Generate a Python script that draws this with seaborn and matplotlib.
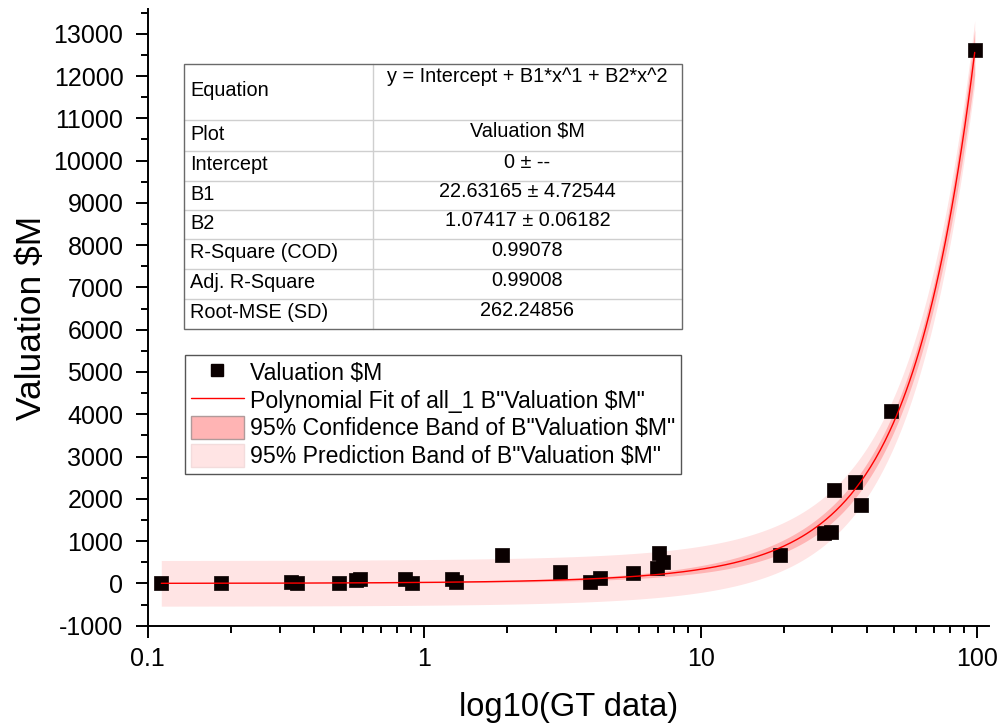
import numpy as np
import pandas as pd
import matplotlib
matplotlib.use("Agg")
import matplotlib.pyplot as plt
import seaborn as sns
from matplotlib.lines import Line2D
from matplotlib.patches import Patch, Rectangle
from matplotlib.ticker import LogLocator, MultipleLocator, FixedLocator, FuncFormatter, NullFormatter

# ---- data -------------------------------------------------------------
gt_data = [0.112, 0.184, 0.329, 0.347, 0.493, 0.567, 0.588, 0.855, 0.901,
           1.257, 1.30, 1.92, 3.09, 3.99, 4.34, 5.69, 6.95, 7.10, 7.31,
           19.3, 28.0, 29.6, 30.5, 36.3, 38.1, 48.9, 98.1]
valuation = [20, 18, 22, 20, 18, 80, 97, 97, 18,
             97, 40, 673, 277, 40, 135, 239, 358, 713, 514,
             673, 1187, 1225, 2213, 2410, 1858, 4069, 12623]

# polynomial fit results (intercept fixed at zero)
INTERCEPT = 0
B1, B1_ERR = 22.63165, 4.72544
B2, B2_ERR = 1.07417, 0.06182
R_SQUARE = 0.99078
ADJ_R_SQUARE = 0.99008
ROOT_MSE = 262.24856
T_CRIT = 2.0595  # Student t, 95 %, df = n - 2 = 25

table_labels = ["Equation", "Plot", "Intercept", "B1", "B2",
                "R-Square (COD)", "Adj. R-Square", "Root-MSE (SD)"]
table_values = ["y = Intercept + B1*x^1 + B2*x^2",
                "Valuation $M",
                f"{INTERCEPT} ± --",
                f"{B1:.5f} ± {B1_ERR:.5f}",
                f"{B2:.5f} ± {B2_ERR:.5f}",
                f"{R_SQUARE:.5f}",
                f"{ADJ_R_SQUARE:.5f}",
                f"{ROOT_MSE:.5f}"]

legend_labels = ["Valuation $M",
                 'Polynomial Fit of all_1 B"Valuation $M"',
                 '95% Confidence Band of B"Valuation $M"',
                 '95% Prediction Band of B"Valuation $M"']

x_ticks = [0.1, 1, 10, 100]
y_ticks = list(range(-1000, 13001, 1000))

# ---- fitted curve and bands -------------------------------------------
x = np.asarray(gt_data, dtype=float)
y = np.asarray(valuation, dtype=float)
xs = np.logspace(np.log10(x.min()), np.log10(x.max()), 500)
ys = INTERCEPT + B1 * xs + B2 * xs ** 2

design = np.column_stack([x, x ** 2])
inv = np.linalg.inv(design.T @ design)
corr = inv[0, 1] / np.sqrt(inv[0, 0] * inv[1, 1])
cov12 = corr * B1_ERR * B2_ERR
var_fit = xs ** 2 * B1_ERR ** 2 + xs ** 4 * B2_ERR ** 2 + 2 * xs ** 3 * cov12
conf = T_CRIT * np.sqrt(var_fit)
pred = T_CRIT * np.sqrt(var_fit + ROOT_MSE ** 2)

points = pd.DataFrame({"gt": x, "val": y})
curve = pd.DataFrame({"gt": xs, "fit": ys})

# ---- style --------------------------------------------------------------
sns.set_theme(style="ticks")
plt.rcParams["font.family"] = ["Liberation Sans", "DejaVu Sans"]
plt.rcParams["axes.unicode_minus"] = False
plt.rcParams["text.color"] = "black"
plt.rcParams["axes.labelcolor"] = "black"
plt.rcParams["xtick.color"] = "black"
plt.rcParams["ytick.color"] = "black"

W, H = 1003, 726
fig = plt.figure(figsize=(W / 100, H / 100), dpi=100)
fig.patch.set_facecolor("white")
ax = fig.add_axes([147.7 / W, 1 - 625.7 / H, (989 - 147.7) / W, (625.7 - 9.2) / H])
ax.set_facecolor("white")

PRED_COLOR = "#FFE4E4"
CONF_COLOR = "#FFB4B4"
FIT_COLOR = "#FF0000"

ax.set_xscale("log")
ax.fill_between(xs, ys - pred, ys + pred, color=PRED_COLOR, lw=0, zorder=1)
ax.fill_between(xs, ys - conf, ys + conf, color=CONF_COLOR, lw=0, zorder=2)
sns.scatterplot(data=points, x="gt", y="val", marker="s", s=90, color="#0a0000",
                edgecolor="#0a0000", linewidth=0.5, ax=ax, zorder=3, legend=False)
sns.lineplot(data=curve, x="gt", y="fit", color=FIT_COLOR, lw=1.0, ax=ax,
             sort=False, estimator=None, zorder=4, legend=False)

ax.set_xlim(0.1, 110.5)
ax.set_ylim(-1000, 13580)

# axes, ticks
for side in ("top", "right"):
    ax.spines[side].set_visible(False)
for side in ("left", "bottom"):
    ax.spines[side].set_linewidth(1.4)
    ax.spines[side].set_color("black")

ax.xaxis.set_major_locator(FixedLocator(x_ticks))
ax.xaxis.set_major_formatter(FuncFormatter(lambda v, p: f"{v:g}"))
ax.xaxis.set_minor_locator(LogLocator(base=10, subs=np.arange(2, 10)))
ax.xaxis.set_minor_formatter(NullFormatter())
ax.yaxis.set_major_locator(FixedLocator(y_ticks))
ax.yaxis.set_minor_locator(MultipleLocator(500))

ax.tick_params(axis="both", which="major", direction="out", length=8.5, width=1.4,
               labelsize=18, colors="black")
ax.tick_params(axis="both", which="minor", direction="out", length=5, width=1.4)
ax.tick_params(axis="x", which="major", pad=7)
ax.tick_params(axis="y", which="major", pad=9)

ax.set_xlabel("log10(GT data)", fontsize=23.5, labelpad=15)
ax.set_ylabel("Valuation $M", fontsize=25.5, labelpad=4)


# ---- fit summary table ---------------------------------------------------
def fx(px):
    return px / W


def fy(py):
    return 1 - py / H


row_edges = [64, 120, 151, 181, 210, 239, 269, 299, 329]
tab_left, tab_mid, tab_right = 184, 373, 682

fig.add_artist(Rectangle((fx(tab_left), fy(row_edges[-1])),
                         fx(tab_right) - fx(tab_left), fy(row_edges[0]) - fy(row_edges[-1]),
                         transform=fig.transFigure, facecolor="white",
                         edgecolor="none", zorder=5))
for yy in row_edges[1:-1]:
    fig.add_artist(Line2D([fx(tab_left), fx(tab_right)], [fy(yy), fy(yy)],
                          transform=fig.transFigure, color="#cfcfcf", lw=1.0, zorder=6))
fig.add_artist(Line2D([fx(tab_mid), fx(tab_mid)], [fy(row_edges[0]), fy(row_edges[-1])],
                      transform=fig.transFigure, color="#cfcfcf", lw=1.0, zorder=6))
fig.add_artist(Rectangle((fx(tab_left), fy(row_edges[-1])),
                         fx(tab_right) - fx(tab_left), fy(row_edges[0]) - fy(row_edges[-1]),
                         transform=fig.transFigure, facecolor="none",
                         edgecolor="#6a6a6a", lw=1.0, zorder=7))

for i, (lab, val) in enumerate(zip(table_labels, table_values)):
    top, bot = row_edges[i], row_edges[i + 1]
    mid = (top + bot) / 2
    fig.text(fx(190.5), fy(mid - 1.5), lab, fontsize=14.3, ha="left", va="center", zorder=8)
    vy = top + 13 if i == 0 else mid - 4
    fig.text(fx((tab_mid + tab_right) / 2), fy(vy), val, fontsize=14.3,
             ha="center", va="center", zorder=8)

# ---- legend ---------------------------------------------------------------
handles = [
    Line2D([], [], ls="none", marker="s", markersize=8, color="#0a0000"),
    Line2D([], [], color=FIT_COLOR, lw=1.0),
    Patch(facecolor=CONF_COLOR, edgecolor="#b09a9a", lw=1.0),
    Patch(facecolor=PRED_COLOR, edgecolor="#f3dcdc", lw=1.0),
]
leg = fig.legend(handles, legend_labels, loc="upper left",
                 bbox_to_anchor=(fx(185), fy(355)), bbox_transform=fig.transFigure,
                 fontsize=16.6, frameon=True, fancybox=False, framealpha=1,
                 edgecolor="#555555", borderpad=0.25, borderaxespad=0,
                 handlelength=2.3, handleheight=1.15, handletextpad=0.25,
                 labelspacing=0.15)
leg.get_frame().set_linewidth(1.0)

fig.savefig("out.png", dpi=100, facecolor="white")
